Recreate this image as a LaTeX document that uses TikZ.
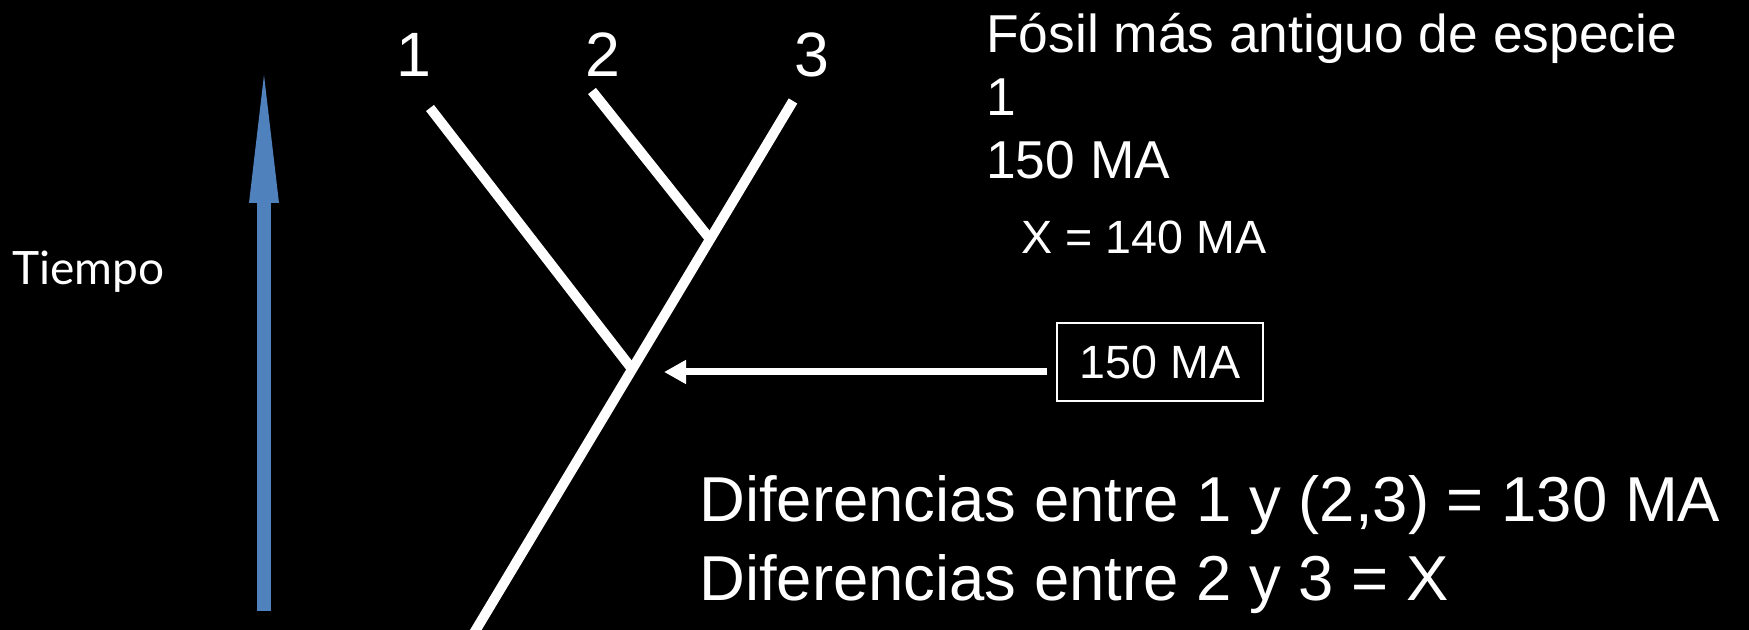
\documentclass[tikz,border=0pt]{standalone}
\usepackage{fontspec}
\setmainfont{Liberation Sans}
\newfontfamily\tiempofont{Lato}
\usetikzlibrary{arrows.meta}
\definecolor{timeblue}{RGB}{79,129,189}
\begin{document}
\begin{tikzpicture}[x=0.75pt,y=-0.75pt,
  branch/.style={draw=white,line width=7.5pt,line cap=butt},
  txt/.style={text=white,inner sep=0pt,anchor=base west},
  lbl/.style={text=white,inner sep=0pt,anchor=base,font=\fontsize{47}{56}\selectfont},
  bigfont/.style={font=\fontsize{40}{48}\selectfont},
  midfont/.style={font=\fontsize{35}{42}\selectfont},
  hugefont/.style={font=\fontsize{47.6}{57}\selectfont}]
\fill[black] (0,0) rectangle (1749,630);
\useasboundingbox (0,0) rectangle (1749,630);

% time arrow
\coordinate (tbot) at (264,611);
\coordinate (tbase) at (264,203);
\coordinate (ttop) at (264,75);
\draw[timeblue,line width=10.5pt,line cap=butt] (tbot) -- ([yshift=1.5pt]tbase);
\fill[timeblue] (ttop) -- ([xshift=-11.25pt]tbase) -- ([xshift=11.25pt]tbase) -- cycle;
\node[txt,font=\tiempofont\fontsize{34.5}{41}\selectfont] (tiempo) at (12,285) {Tiempo};

% tree
\coordinate (t1) at (430,108);
\coordinate (t2) at (592,91);
\coordinate (t3) at (793,101);
\coordinate (j1) at (632,369);
\coordinate (j2) at (710,239);
\coordinate (root) at (474,633);
\draw[branch] (t3) -- (root);
\draw[branch] (t1) -- (j1);
\draw[branch] (t2) -- (j2);
\node[lbl] (n1) at (414,77) {1};
\node[lbl] (n2) at (603,77) {2};
\node[lbl] (n3) at (812,77) {3};

% box and arrow
\node[draw=white,line width=1.5pt,minimum width=154.5pt,minimum height=58.5pt,
      text=white,inner sep=0pt,midfont] (box) at (1160,362) {150 MA};
\coordinate (tgt) at (664,372);
\draw[white,line width=5.25pt,shorten <=6.75pt,-{Triangle[length=16.5pt,width=17pt]}] (box.west |- tgt) -- (tgt);

% top-right text
\node[txt,bigfont] (fosil) at (986,53) {Fósil más antiguo de especie};
\node[txt,bigfont] (uno) at (986,116) {1};
\node[txt,bigfont] (ma150) at (986,179) {150 MA};
\node[txt,midfont] (xval) at (1021,254) {X = 140 MA};

% bottom text
\node[txt,hugefont] (dif1) at (699,522) {Diferencias entre 1 y (2,3) = 130 MA};
\node[txt,hugefont] (dif2) at (699,600) {Diferencias entre 2 y 3 = X};
\end{tikzpicture}
\end{document}
